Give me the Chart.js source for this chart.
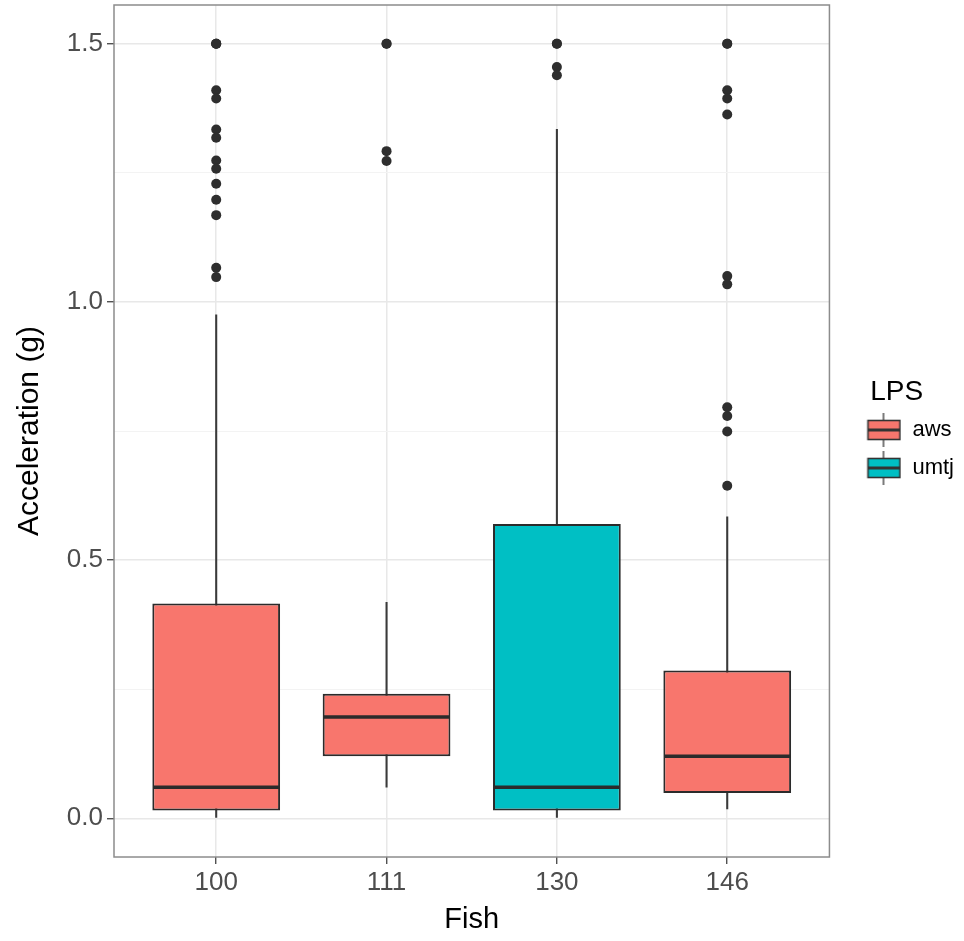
<!DOCTYPE html>
<html>
<head>
<meta charset="utf-8">
<script src="https://cdn.jsdelivr.net/npm/chart.js@4/dist/chart.umd.min.js"></script>
<style>
  html, body { margin: 0; padding: 0; background: #fff; }
  canvas { display: block; }
</style>
</head>
<body>
<canvas id="boxChart" width="964" height="941"></canvas>
<script>
// Box statistics per fish
const fishIds = ['100', '111', '130', '146'];
const lpsOfFish = ['aws', 'aws', 'umtj', 'aws'];
const lowerWhisker = [0.0, 0.060, 0.0, 0.018];
const q1 = [0.015, 0.120, 0.015, 0.049];
const median = [0.060, 0.196, 0.060, 0.120];
const q3 = [0.416, 0.241, 0.570, 0.286];
const upperWhisker = [0.975, 0.418, 1.334, 0.584];

// Outlying points per fish
const outliers100 = [1.5, 1.5, 1.5, 1.41, 1.394, 1.334, 1.318, 1.274, 1.258, 1.229, 1.198, 1.168, 1.066, 1.048];
const outliers111 = [1.5, 1.5, 1.292, 1.273];
const outliers130 = [1.5, 1.5, 1.455, 1.439];
const outliers146 = [1.5, 1.5, 1.41, 1.394, 1.363, 1.05, 1.034, 0.796, 0.779, 0.749, 0.644];

const lpsGroups = ['aws', 'umtj'];
const lpsColors = {aws: '#F8766D', umtj: '#00BFC4'};
const yTicks = [0, 0.25, 0.5, 0.75, 1.0, 1.25, 1.5];
const yMin = -0.075;
const yMax = 1.575;

const BOX_W = 0.75;
const FONT = "'Liberation Sans', Arial, sans-serif";

function isMajor(v) {
  return Math.abs(v * 2 - Math.round(v * 2)) < 1e-9;
}

// little boxplot glyph for the legend keys
function legendIcon(fill) {
  const c = document.createElement('canvas');
  c.width = 56;
  c.height = 36;
  const g = c.getContext('2d');
  g.strokeStyle = '#333';
  g.lineWidth = 1.3;
  g.beginPath();
  g.moveTo(38, 1);
  g.lineTo(38, 35);
  g.stroke();
  g.fillStyle = fill;
  g.lineWidth = 1.6;
  g.fillRect(22.5, 8.5, 32, 19);
  g.strokeRect(22.5, 8.5, 32, 19);
  g.lineWidth = 3;
  g.beginPath();
  g.moveTo(22.5, 18);
  g.lineTo(54.5, 18);
  g.stroke();
  return c;
}

const outlierPoints = [];
[outliers100, outliers111, outliers130, outliers146].forEach((list, i) => {
  list.forEach(v => outlierPoints.push({x: i, y: v}));
});

const boxDatasets = lpsGroups.map(group => ({
  label: group,
  order: 1,
  data: fishIds.map((f, i) => i).filter(i => lpsOfFish[i] === group)
    .map(i => ({x: i, y: [q1[i], q3[i]]})),
  backgroundColor: lpsColors[group],
  borderColor: '#2b2b2b',
  borderWidth: 2,
  borderSkipped: false,
  grouped: false,
  categoryPercentage: 1,
  barPercentage: BOX_W,
  pointStyle: legendIcon(lpsColors[group])
}));

const medianAndBorder = {
  id: 'medianAndBorder',
  afterDatasetsDraw(chart) {
    const {ctx, scales: {x, y}} = chart;
    ctx.save();
    ctx.strokeStyle = '#2b2b2b';
    ctx.lineWidth = 3.5;
    median.forEach((m, i) => {
      const py = y.getPixelForValue(m);
      ctx.beginPath();
      ctx.moveTo(x.getPixelForValue(i - BOX_W / 2) + 1, py);
      ctx.lineTo(x.getPixelForValue(i + BOX_W / 2) - 1, py);
      ctx.stroke();
    });
    ctx.restore();
  },
  afterDraw(chart) {
    const {ctx, chartArea: a} = chart;
    ctx.save();
    ctx.strokeStyle = '#8c8c8c';
    ctx.lineWidth = 1.5;
    ctx.strokeRect(a.left, a.top, a.right - a.left, a.bottom - a.top);
    ctx.restore();
  }
};

new Chart(document.getElementById('boxChart'), {
  type: 'bar',
  data: {
    datasets: [
      {
        type: 'scatter',
        label: 'outliers',
        order: 0,
        data: outlierPoints,
        pointRadius: 5,
        pointBackgroundColor: '#2e2e2e',
        pointBorderWidth: 0
      },
      ...boxDatasets,
      {
        label: 'whiskers',
        order: 2,
        data: fishIds.map((f, i) => ({x: i, y: [lowerWhisker[i], upperWhisker[i]]})),
        backgroundColor: '#3a3a3a',
        borderWidth: 0,
        grouped: false,
        categoryPercentage: 1,
        barPercentage: 1,
        maxBarThickness: 1.4
      }
    ]
  },
  options: {
    responsive: false,
    animation: false,
    layout: {padding: {left: 12, right: 0, top: 5, bottom: 4}},
    plugins: {
      tooltip: {enabled: false},
      legend: {
        position: 'right',
        align: 'start',
        title: {
          display: true,
          text: 'LPS',
          color: '#000',
          font: {family: FONT, size: 28, lineHeight: 1},
          padding: {top: 373, bottom: -3}
        },
        labels: {
          filter: item => lpsGroups.includes(item.text),
          usePointStyle: true,
          pointStyleWidth: 56,
          padding: 16,
          color: '#000',
          font: {family: FONT, size: 22}
        }
      }
    },
    scales: {
      x: {
        type: 'linear',
        min: -0.6,
        max: 3.6,
        offset: false,
        afterBuildTicks: axis => {
          axis.ticks = fishIds.map((f, i) => ({value: i}));
        },
        afterFit: scale => { scale.height = 80; },
        ticks: {
          callback: v => fishIds[v],
          color: '#4d4d4d',
          font: {family: FONT, size: 26},
          padding: 3,
          autoSkip: false,
          maxRotation: 0
        },
        grid: {
          offset: false,
          color: '#e8e8e8',
          lineWidth: 1.5,
          tickColor: '#333',
          tickLength: 7,
          tickWidth: 1.2
        },
        border: {display: false},
        title: {
          display: true,
          text: 'Fish',
          color: '#000',
          font: {family: FONT, size: 29},
          padding: 0
        }
      },
      y: {
        min: yMin,
        max: yMax,
        afterBuildTicks: axis => {
          axis.ticks = yTicks.map(v => ({value: v}));
        },
        afterFit: scale => {
          scale.width = 102;
          scale.paddingTop = 0;
          scale.paddingBottom = 0;
        },
        ticks: {
          callback: v => isMajor(v) ? v.toFixed(1) : '',
          color: '#4d4d4d',
          font: {family: FONT, size: 26},
          padding: 4,
          autoSkip: false
        },
        grid: {
          color: c => isMajor(c.tick.value) ? '#e8e8e8' : '#f3f3f3',
          lineWidth: c => isMajor(c.tick.value) ? 1.5 : 1,
          tickColor: c => isMajor(c.tick.value) ? '#333' : 'rgba(0,0,0,0)',
          tickLength: 7,
          tickWidth: 1.2
        },
        border: {display: false},
        title: {
          display: true,
          text: 'Acceleration (g)',
          color: '#000',
          font: {family: FONT, size: 30},
          padding: 0
        }
      }
    }
  },
  plugins: [medianAndBorder]
});
</script>
</body>
</html>
